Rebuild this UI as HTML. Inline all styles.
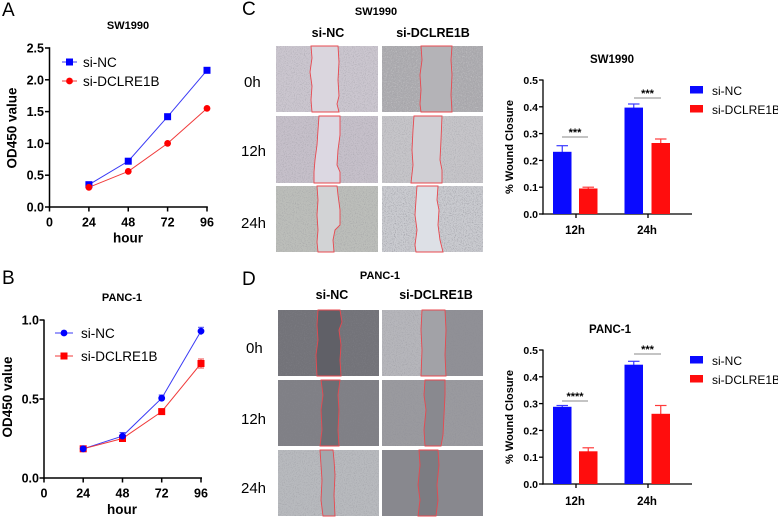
<!DOCTYPE html>
<html><head><meta charset="utf-8">
<style>
html,body{margin:0;padding:0;background:#fff;}
svg{display:block;}
text{font-family:"Liberation Sans",Arial,sans-serif;}
.b{font-weight:bold;}
</style></head><body>
<svg width="778" height="517" viewBox="0 0 778 517" xmlns="http://www.w3.org/2000/svg">
<defs>
<filter id="g" x="0" y="0" width="1" height="1">
<feTurbulence type="fractalNoise" baseFrequency="0.9" numOctaves="2" seed="4"/>
<feColorMatrix type="matrix" values="0 0 0 0 0.25  0 0 0 0 0.25  0 0 0 0 0.28  2.2 0 0 0 -1.05"/>
</filter>
<filter id="w" x="0" y="0" width="1" height="1">
<feTurbulence type="fractalNoise" baseFrequency="0.8" numOctaves="2" seed="9"/>
<feColorMatrix type="matrix" values="0 0 0 0 1  0 0 0 0 1  0 0 0 0 1  2.2 0 0 0 -1.1"/>
</filter>
</defs>
<rect width="778" height="517" fill="#fff"/>

<!-- Panel letters -->
<text x="2" y="16" font-size="19">A</text>
<text x="2" y="284" font-size="19">B</text>
<text x="242" y="15" font-size="19">C</text>
<text x="242" y="285" font-size="19">D</text>

<!-- ============ Panel A ============ -->
<text x="128" y="29" font-size="11" class="b" text-anchor="middle">SW1990</text>
<g stroke="#000" stroke-width="1.5">
<line x1="49.5" y1="47.3" x2="49.5" y2="207.75"/>
<line x1="48.75" y1="207" x2="207.8" y2="207"/>
<line x1="45" y1="48" x2="49.5" y2="48"/>
<line x1="45" y1="79.8" x2="49.5" y2="79.8"/>
<line x1="45" y1="111.6" x2="49.5" y2="111.6"/>
<line x1="45" y1="143.4" x2="49.5" y2="143.4"/>
<line x1="45" y1="175.2" x2="49.5" y2="175.2"/>
<line x1="45" y1="207" x2="49.5" y2="207"/>
<line x1="49.5" y1="207" x2="49.5" y2="211.5"/>
<line x1="88.9" y1="207" x2="88.9" y2="211.5"/>
<line x1="128.25" y1="207" x2="128.25" y2="211.5"/>
<line x1="167.6" y1="207" x2="167.6" y2="211.5"/>
<line x1="207" y1="207" x2="207" y2="211.5"/>
</g>
<g font-size="12.5" class="b" text-anchor="end">
<text x="44" y="52.5">2.5</text>
<text x="44" y="84.3">2.0</text>
<text x="44" y="116.1">1.5</text>
<text x="44" y="147.9">1.0</text>
<text x="44" y="179.7">0.5</text>
<text x="44" y="211.5">0.0</text>
</g>
<g font-size="12.5" class="b" text-anchor="middle">
<text x="49.5" y="226.5">0</text>
<text x="88.9" y="226.5">24</text>
<text x="128.25" y="226.5">48</text>
<text x="167.6" y="226.5">72</text>
<text x="207" y="226.5">96</text>
</g>
<text x="128" y="242.5" font-size="13.5" class="b" text-anchor="middle">hour</text>
<text transform="translate(16.5,128) rotate(-90)" font-size="13.5" class="b" text-anchor="middle">OD450 value</text>
<polyline points="88.9,184.7 128.25,161.2 167.6,116.7 207,70.3" fill="none" stroke="#3a3af5" stroke-width="1"/>
<polyline points="88.9,187.3 128.25,171.4 167.6,143.4 207,108.4" fill="none" stroke="#f03a3a" stroke-width="1"/>
<g fill="#0000ff">
<rect x="85.4" y="181.2" width="7" height="7"/>
<rect x="124.75" y="157.7" width="7" height="7"/>
<rect x="164.1" y="113.2" width="7" height="7"/>
<rect x="203.5" y="66.8" width="7" height="7"/>
</g>
<g fill="#ff0000">
<circle cx="88.9" cy="187.3" r="3.4"/>
<circle cx="128.25" cy="171.4" r="3.4"/>
<circle cx="167.6" cy="143.4" r="3.4"/>
<circle cx="207" cy="108.4" r="3.4"/>
</g>
<!-- legend A -->
<line x1="62" y1="62" x2="77" y2="62" stroke="#3a3af5" stroke-width="1"/>
<rect x="66" y="58.5" width="7" height="7" fill="#0000ff"/>
<text x="83" y="67" font-size="13.5">si-NC</text>
<line x1="62" y1="81" x2="77" y2="81" stroke="#f03a3a" stroke-width="1"/>
<circle cx="69.5" cy="81" r="3.4" fill="#ff0000"/>
<text x="83" y="86" font-size="13.5">si-DCLRE1B</text>

<!-- ============ Panel B ============ -->
<text x="122" y="301" font-size="11" class="b" text-anchor="middle">PANC-1</text>
<g stroke="#000" stroke-width="1.5">
<line x1="44" y1="319.5" x2="44" y2="478.75"/>
<line x1="43.25" y1="478" x2="202" y2="478"/>
<line x1="39.5" y1="320" x2="44" y2="320"/>
<line x1="39.5" y1="399" x2="44" y2="399"/>
<line x1="39.5" y1="478" x2="44" y2="478"/>
<line x1="44" y1="478" x2="44" y2="482.5"/>
<line x1="83.2" y1="478" x2="83.2" y2="482.5"/>
<line x1="122.5" y1="478" x2="122.5" y2="482.5"/>
<line x1="161.7" y1="478" x2="161.7" y2="482.5"/>
<line x1="201" y1="478" x2="201" y2="482.5"/>
</g>
<g font-size="12.5" class="b" text-anchor="end">
<text x="39" y="324.5">1.0</text>
<text x="39" y="403.5">0.5</text>
<text x="39" y="482.5">0.0</text>
</g>
<g font-size="12.5" class="b" text-anchor="middle">
<text x="44" y="497.5">0</text>
<text x="83.2" y="497.5">24</text>
<text x="122.5" y="497.5">48</text>
<text x="161.7" y="497.5">72</text>
<text x="201" y="497.5">96</text>
</g>
<text x="122" y="514" font-size="13.5" class="b" text-anchor="middle">hour</text>
<text transform="translate(12,397) rotate(-90)" font-size="13.5" class="b" text-anchor="middle">OD450 value</text>
<polyline points="83.2,448.8 122.5,436.1 161.7,398.2 201,331.1" fill="none" stroke="#3a3af5" stroke-width="1"/>
<polyline points="83.2,448.8 122.5,438.5 161.7,411.6 201,363.5" fill="none" stroke="#f03a3a" stroke-width="1"/>
<g stroke="#4a4af5" stroke-width="1">
<line x1="122.5" y1="432.5" x2="122.5" y2="439.5"/><line x1="119.5" y1="432.5" x2="125.5" y2="432.5"/>
<line x1="161.7" y1="395" x2="161.7" y2="401.5"/><line x1="158.7" y1="395" x2="164.7" y2="395"/>
<line x1="201" y1="327.3" x2="201" y2="335"/><line x1="198" y1="327.3" x2="204" y2="327.3"/>
</g>
<g stroke="#f04a4a" stroke-width="1">
<line x1="201" y1="359" x2="201" y2="368"/><line x1="198" y1="359" x2="204" y2="359"/><line x1="198" y1="368" x2="204" y2="368"/>
</g>
<g fill="#ff0000">
<rect x="79.7" y="445.3" width="7" height="7"/>
<rect x="119" y="435" width="7" height="7"/>
<rect x="158.2" y="408.1" width="7" height="7"/>
<rect x="197.5" y="360" width="7" height="7"/>
</g>
<g fill="#0000ff">
<circle cx="83.2" cy="448.8" r="3.4"/>
<circle cx="122.5" cy="436.1" r="3.4"/>
<circle cx="161.7" cy="398.2" r="3.4"/>
<circle cx="201" cy="331.1" r="3.4"/>
</g>
<!-- legend B -->
<line x1="55" y1="333" x2="73" y2="333" stroke="#3a3af5" stroke-width="1"/>
<circle cx="64" cy="333" r="3.4" fill="#0000ff"/>
<text x="81" y="338" font-size="13.5">si-NC</text>
<line x1="55" y1="356" x2="73" y2="356" stroke="#f03a3a" stroke-width="1"/>
<rect x="60.5" y="352.5" width="7" height="7" fill="#ff0000"/>
<text x="81" y="361" font-size="13.5">si-DCLRE1B</text>

<!-- ============ Panel C images ============ -->
<text x="376" y="15" font-size="11" class="b" text-anchor="middle">SW1990</text>
<text x="328" y="37" font-size="12.5" class="b" text-anchor="middle">si-NC</text>
<text x="433" y="37" font-size="12.5" class="b" text-anchor="middle">si-DCLRE1B</text>
<g font-size="15">
<text x="244" y="87">0h</text>
<text x="241" y="156">12h</text>
<text x="241" y="228">24h</text>
</g>
<!-- row 0 -->
<rect x="276" y="46" width="102" height="66" fill="#cbc6cf"/>
<rect x="276" y="46" width="102" height="66" filter="url(#g)" opacity="0.5"/>
<rect x="382" y="46" width="101" height="66" fill="#acabaf"/>
<rect x="382" y="46" width="101" height="66" filter="url(#w)" opacity="0.35"/>
<rect x="382" y="46" width="101" height="66" filter="url(#g)" opacity="0.4"/>
<!-- row 1 -->
<rect x="276" y="116" width="102" height="67" fill="#c6c0ca"/>
<rect x="276" y="116" width="102" height="67" filter="url(#g)" opacity="0.5"/>
<rect x="382" y="116" width="101" height="67" fill="#c6c5c9"/>
<rect x="382" y="116" width="101" height="67" filter="url(#g)" opacity="0.5"/>
<!-- row 2 -->
<rect x="276" y="186" width="102" height="66" fill="#bcbeba"/>
<rect x="276" y="186" width="102" height="66" filter="url(#g)" opacity="0.5"/>
<rect x="382" y="186" width="101" height="66" fill="#cacbd0"/>
<rect x="382" y="186" width="101" height="66" filter="url(#g)" opacity="0.8"/>
<g stroke="#e8484f" stroke-width="0.9">
<polygon fill="#dad6de" points="311,46 312,58 310,72 312,86 311,100 312,112 339,112 337,104 339,96 338,80 339,62 338,46"/>
<polygon fill="#b4b3b7" points="421,46 422,60 420,75 421,90 420,104 421,112 452,112 451,95 452,75 451,60 452,46"/>
<polygon fill="#dcd8e2" points="319,116 318,130 317,145 315,160 314,172 314,183 340,183 340,172 337,165 338,150 340,135 340,116"/>
<polygon fill="#d0cfd4" points="414,116 413,130 412,150 413,165 411,183 442,183 442,170 440,160 441,140 442,116"/>
<polygon fill="#d2d3d5" points="317,186 318,200 317,215 318,230 317,242 318,252 334,252 333,240 335,230 340,225 340,210 338,195 337,186"/>
<polygon fill="#dde0e6" points="417,186 416,200 415,215 417,230 415,245 416,252 443,252 440,240 438,225 439,210 437,200 438,186"/>
</g>

<!-- ============ Panel D images ============ -->
<text x="380" y="279" font-size="11" class="b" text-anchor="middle">PANC-1</text>
<text x="332" y="299" font-size="12.5" class="b" text-anchor="middle">si-NC</text>
<text x="436" y="299" font-size="12.5" class="b" text-anchor="middle">si-DCLRE1B</text>
<g font-size="15">
<text x="246" y="353">0h</text>
<text x="241" y="424">12h</text>
<text x="241" y="493">24h</text>
</g>
<!-- row 0 -->
<rect x="278" y="310" width="101" height="66" fill="#737379"/>
<rect x="278" y="310" width="101" height="66" filter="url(#g)" opacity="0.5"/>
<rect x="382" y="310" width="40" height="66" fill="#b6b6bb"/>
<rect x="445" y="310" width="38" height="66" fill="#909096"/>
<rect x="382" y="310" width="101" height="66" filter="url(#g)" opacity="0.5"/>
<!-- row 1 -->
<rect x="278" y="380" width="101" height="66" fill="#808086"/>
<rect x="278" y="380" width="101" height="66" filter="url(#g)" opacity="0.5"/>
<rect x="382" y="380" width="101" height="66" fill="#9a9a9f"/>
<rect x="382" y="380" width="101" height="66" filter="url(#g)" opacity="0.5"/>
<!-- row 2 -->
<rect x="278" y="450" width="101" height="66" fill="#b8babe"/>
<rect x="278" y="450" width="101" height="66" filter="url(#g)" opacity="0.5"/>
<rect x="382" y="450" width="101" height="66" fill="#88888e"/>
<rect x="382" y="450" width="101" height="66" filter="url(#g)" opacity="0.5"/>
<g stroke="#e8484f" stroke-width="0.9">
<polygon fill="#606067" points="318,310 317,325 318,340 316,355 317,376 341,376 340,360 341,345 339,330 342,322 340,310"/>
<polygon fill="#a2a2a7" points="422,310 421,330 422,350 421,376 446,376 445,355 446,330 445,310"/>
<polygon fill="#6d6d73" points="321,380 323,395 321,410 322,430 320,446 339,446 338,430 339,410 338,395 340,380"/>
<polygon fill="#89898f" points="425,380 424,395 426,410 424,430 425,446 441,446 443,435 444,415 445,395 445,380"/>
<polygon fill="#a5a7ac" points="320,450 321,465 322,480 321,500 323,516 335,516 334,495 335,475 334,460 333,450"/>
<polygon fill="#7c7c82" points="419,450 420,465 418,485 420,500 418,516 436,516 438,500 437,485 439,465 438,450"/>
</g>

<!-- ============ Bar chart C ============ -->
<text x="612" y="63" font-size="11.5" class="b" text-anchor="middle">SW1990</text>
<text transform="translate(513,147) rotate(-90)" font-size="11" class="b" text-anchor="middle">% Wound Closure</text>
<g stroke="#000" stroke-width="1.3">
<line x1="543" y1="79.5" x2="543" y2="214.65"/>
<line x1="542.35" y1="214" x2="692" y2="214"/>
<line x1="539" y1="80" x2="543" y2="80"/>
<line x1="539" y1="106.8" x2="543" y2="106.8"/>
<line x1="539" y1="133.6" x2="543" y2="133.6"/>
<line x1="539" y1="160.4" x2="543" y2="160.4"/>
<line x1="539" y1="187.2" x2="543" y2="187.2"/>
<line x1="539" y1="214" x2="543" y2="214"/>
<line x1="576" y1="214" x2="576" y2="218"/>
<line x1="648" y1="214" x2="648" y2="218"/>
</g>
<g font-size="10.5" class="b" text-anchor="end">
<text x="538" y="84">0.5</text>
<text x="538" y="110.8">0.4</text>
<text x="538" y="137.6">0.3</text>
<text x="538" y="164.4">0.2</text>
<text x="538" y="191.2">0.1</text>
<text x="538" y="218">0.0</text>
</g>
<g font-size="11.5" class="b" text-anchor="middle">
<text x="575" y="234">12h</text>
<text x="647" y="234">24h</text>
</g>
<g stroke="#3a3aff" stroke-width="1.2">
<line x1="562.25" y1="145.7" x2="562.25" y2="152"/><line x1="556.5" y1="145.7" x2="568" y2="145.7"/>
<line x1="633.75" y1="104" x2="633.75" y2="108"/><line x1="628" y1="104" x2="639.5" y2="104"/>
</g>
<g stroke="#ff3a3a" stroke-width="1.2">
<line x1="588.25" y1="187.2" x2="588.25" y2="189"/><line x1="582.5" y1="187.2" x2="594" y2="187.2"/>
<line x1="660.75" y1="139" x2="660.75" y2="143.5"/><line x1="655" y1="139" x2="666.5" y2="139"/>
</g>
<rect x="553" y="151.8" width="18.5" height="62.2" fill="#0a0aff"/>
<rect x="579" y="188.5" width="18.5" height="25.5" fill="#ff0d0d"/>
<rect x="624.5" y="107.6" width="18.5" height="106.4" fill="#0a0aff"/>
<rect x="651.5" y="143" width="18.5" height="71" fill="#ff0d0d"/>
<g stroke="#8a8a8a" stroke-width="1">
<line x1="562" y1="137" x2="588" y2="137"/>
<line x1="634" y1="98" x2="661" y2="98"/>
</g>
<g font-size="11" class="b" text-anchor="middle">
<text x="575" y="136">***</text>
<text x="647.5" y="97">***</text>
</g>
<rect x="690" y="86" width="13" height="7.5" fill="#0a0aff"/>
<text x="712" y="95" font-size="12">si-NC</text>
<rect x="690" y="105" width="13" height="7.5" fill="#ff0d0d"/>
<text x="712" y="114" font-size="12">si-DCLRE1B</text>

<!-- ============ Bar chart D ============ -->
<text x="610" y="333" font-size="11.5" class="b" text-anchor="middle">PANC-1</text>
<text transform="translate(513,417) rotate(-90)" font-size="11" class="b" text-anchor="middle">% Wound Closure</text>
<g stroke="#000" stroke-width="1.3">
<line x1="543" y1="349.5" x2="543" y2="484.65"/>
<line x1="542.35" y1="484" x2="692" y2="484"/>
<line x1="539" y1="350" x2="543" y2="350"/>
<line x1="539" y1="376.8" x2="543" y2="376.8"/>
<line x1="539" y1="403.6" x2="543" y2="403.6"/>
<line x1="539" y1="430.4" x2="543" y2="430.4"/>
<line x1="539" y1="457.2" x2="543" y2="457.2"/>
<line x1="539" y1="484" x2="543" y2="484"/>
<line x1="576" y1="484" x2="576" y2="488"/>
<line x1="648" y1="484" x2="648" y2="488"/>
</g>
<g font-size="10.5" class="b" text-anchor="end">
<text x="538" y="354">0.5</text>
<text x="538" y="380.8">0.4</text>
<text x="538" y="407.6">0.3</text>
<text x="538" y="434.4">0.2</text>
<text x="538" y="461.2">0.1</text>
<text x="538" y="488">0.0</text>
</g>
<g font-size="11.5" class="b" text-anchor="middle">
<text x="575" y="505">12h</text>
<text x="647" y="505">24h</text>
</g>
<g stroke="#3a3aff" stroke-width="1.2">
<line x1="562.25" y1="405.5" x2="562.25" y2="407"/><line x1="556.5" y1="405.5" x2="568" y2="405.5"/>
<line x1="633.75" y1="361.3" x2="633.75" y2="365"/><line x1="628" y1="361.3" x2="639.5" y2="361.3"/>
</g>
<g stroke="#ff3a3a" stroke-width="1.2">
<line x1="588.25" y1="447.8" x2="588.25" y2="451.5"/><line x1="582.5" y1="447.8" x2="594" y2="447.8"/>
<line x1="660.75" y1="405.5" x2="660.75" y2="414"/><line x1="655" y1="405.5" x2="666.5" y2="405.5"/>
</g>
<rect x="553" y="406.8" width="18.5" height="77.2" fill="#0a0aff"/>
<rect x="579" y="451.3" width="18.5" height="32.7" fill="#ff0d0d"/>
<rect x="624.5" y="364.7" width="18.5" height="119.3" fill="#0a0aff"/>
<rect x="651.5" y="413.8" width="18.5" height="70.2" fill="#ff0d0d"/>
<g stroke="#8a8a8a" stroke-width="1">
<line x1="562" y1="401" x2="588" y2="401"/>
<line x1="634" y1="354" x2="661" y2="354"/>
</g>
<g font-size="11" class="b" text-anchor="middle">
<text x="575" y="400">****</text>
<text x="647.5" y="353">***</text>
</g>
<rect x="690" y="356" width="13" height="7.5" fill="#0a0aff"/>
<text x="712" y="365" font-size="12">si-NC</text>
<rect x="690" y="375" width="13" height="7.5" fill="#ff0d0d"/>
<text x="712" y="384" font-size="12">si-DCLRE1B</text>
</svg>
</body></html>
